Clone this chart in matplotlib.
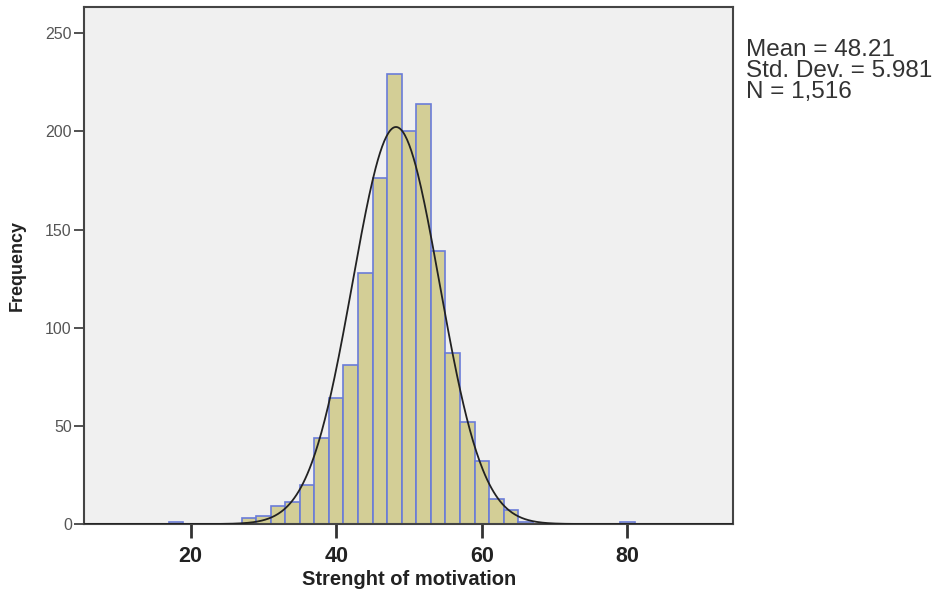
import numpy as np
import matplotlib
matplotlib.use('Agg')
import matplotlib.pyplot as plt

# histogram data (bin width 2, left edges)
bin_left = [17, 27, 29, 31, 33, 35, 37, 39, 41, 43, 45, 47, 49, 51, 53, 55, 57, 59, 61, 63, 65, 79]
counts = [1, 3, 4, 9, 11, 20, 44, 64, 81, 128, 176, 229, 200, 214, 139, 87, 52, 32, 13, 7, 1, 1]
bin_width = 2

mean_val = 48.21
std_val = 5.981
n_val = 1516

x_ticks = [20, 40, 60, 80]
y_ticks = [0, 50, 100, 150, 200, 250]

plt.rcParams['font.family'] = ['Liberation Sans', 'DejaVu Sans']

fig = plt.figure(figsize=(9.43, 5.94), dpi=100)
ax = fig.add_axes([0.0894, 0.1178, 0.6879, 0.8709])
ax.set_facecolor('#F0F0F0')

# bars
ax.bar(bin_left, counts, width=bin_width, align='edge',
       color='#D3CE96', edgecolor='#6A7CD8', linewidth=1.2, zorder=2)

# fitted normal curve
xs = np.linspace(5.4, 94.5, 600)
ys = n_val * bin_width / (std_val * np.sqrt(2 * np.pi)) * np.exp(-0.5 * ((xs - mean_val) / std_val) ** 2)
ax.plot(xs, ys, color='#222222', linewidth=1.3, zorder=3)

ax.set_xlim(5.4, 94.5)
ax.set_ylim(0, 263.5)

ax.set_xticks(x_ticks)
ax.set_yticks(y_ticks)
ax.tick_params(axis='x', length=10, width=2, color='#333333', labelsize=15.5,
               labelcolor='#222222', pad=6)
ax.tick_params(axis='y', length=7, width=1.2, color='#333333', labelsize=11.5,
               labelcolor='#555555', pad=2)
for lab in ax.get_xticklabels():
    lab.set_fontweight('bold')

for sp in ax.spines.values():
    sp.set_color('#444444')
    sp.set_linewidth(1.5)

ax.set_xlabel('Strenght of motivation', fontsize=14.5, fontweight='bold',
              color='#222222')
ax.xaxis.set_label_coords(0.5, -0.088)
ax.set_ylabel('Frequency', fontsize=13, fontweight='bold', color='#222222',
              family=['Liberation Sans Narrow', 'Liberation Sans', 'DejaVu Sans'])
ax.yaxis.set_label_coords(-0.09, 0.5)

stats = 'Mean = 48.21\nStd. Dev. = 5.981\nN = 1,516'
fig.text(0.791, 0.935, stats, fontsize=17.5, color='#333333', va='top', ha='left',
         linespacing=0.95)

fig.savefig('out.png', dpi=100)
